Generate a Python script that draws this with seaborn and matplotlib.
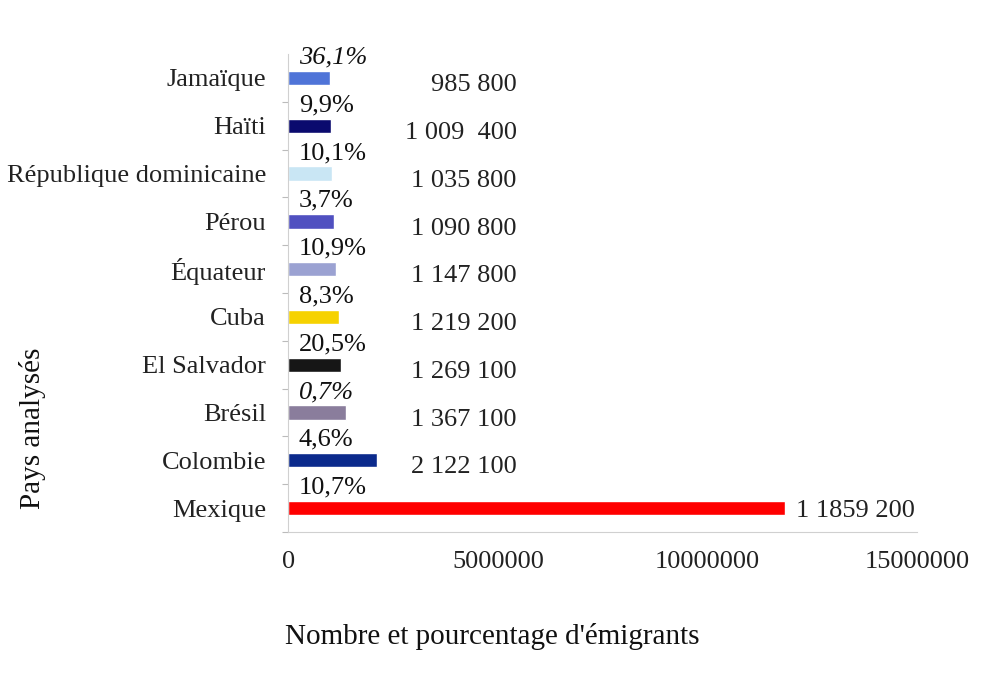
import matplotlib
matplotlib.use("Agg")
import matplotlib.pyplot as plt
from matplotlib.ticker import FixedLocator, FuncFormatter
import seaborn as sns
import pandas as pd

# Données
pays = ["Jamaïque", "Haïti", "République dominicaine", "Pérou", "Équateur",
        "Cuba", "El Salvador", "Brésil", "Colombie", "Mexique"]
emigrants = [985800, 1009400, 1035800, 1090800, 1147800,
             1219200, 1269100, 1367100, 2122100, 11859200]
etiquettes_nombre = ["985 800", "1 009  400", "1 035 800", "1 090 800", "1 147 800",
                     "1 219 200", "1 269 100", "1 367 100", "2 122 100", "1 1859 200"]
pourcentages = ["36,1%", "9,9%", "10,1%", "3,7%", "10,9%",
                "8,3%", "20,5%", "0,7%", "4,6%", "10,7%"]
couleurs = ["#4f74d8", "#0a0a6e", "#c9e6f4", "#5050c0", "#9ba2d2",
            "#f6d200", "#161616", "#8a7d9c", "#0b2a8c", "#ff0000"]

sns.set_theme(style="white")
plt.rcParams["font.family"] = ["Liberation Serif", "DejaVu Serif"]

df = pd.DataFrame({"pays": pays, "emigrants": emigrants})

fig = plt.figure(figsize=(10.01, 6.76), dpi=100)
ax = fig.add_axes([0.288, 0.213, 0.628, 0.707])

sns.barplot(data=df, x="emigrants", y="pays", hue="pays", palette=couleurs,
            width=0.3, legend=False, saturation=1, ax=ax)

ax.set_xlim(0, 15000000)
ax.set_ylim(len(pays) - 0.5, -0.5)
ax.set_xticks([0, 5000000, 10000000, 15000000])
ax.xaxis.set_major_formatter(FuncFormatter(lambda v, p: f"{int(v)}"))
ax.tick_params(axis="x", labelsize=19, length=0, pad=14, colors="#222222")
ax.tick_params(axis="y", labelsize=19, length=0, pad=16, colors="#222222")

# Traits de séparation entre catégories sur l'axe vertical
ax.yaxis.set_minor_locator(FixedLocator([i + 0.5 for i in range(len(pays))]))
ax.tick_params(axis="y", which="minor", length=4, color="#bbbbbb", width=0.8, left=True)

for s in ["top", "right"]:
    ax.spines[s].set_visible(False)
for s in ["left", "bottom"]:
    ax.spines[s].set_color("#d0d0d0")
    ax.spines[s].set_linewidth(0.8)

ax.set_xlabel("")
ax.set_ylabel("")

# Étiquettes de pourcentage et de nombre
for i, (v, lab, pct) in enumerate(zip(emigrants, etiquettes_nombre, pourcentages)):
    ax.text(250000, i - 0.43, pct, ha="left", va="center", fontsize=19,
            fontstyle="italic" if pct in ("36,1%", "0,7%") else "normal",
            color="#111111")
    if i == len(pays) - 1:
        ax.text(v + 250000, i + 0.06, lab, ha="left", va="center", fontsize=19,
                color="#222222")
    else:
        ax.text(5450000, i + 0.15, lab, ha="right", va="center", fontsize=19,
                color="#222222")

fig.text(0.032, 0.366, "Pays analysés", rotation=90, ha="center", va="center",
         fontsize=21, color="#111111")
fig.text(0.492, 0.059, "Nombre et pourcentage d'émigrants", ha="center", va="center",
         fontsize=21, color="#111111")

fig.savefig("out.png", dpi=100, facecolor="white")
